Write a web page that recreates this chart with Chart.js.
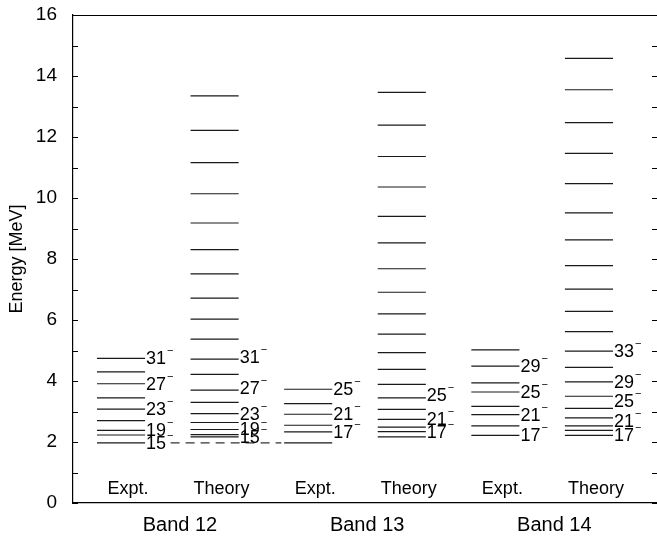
<!DOCTYPE html>
<html>
<head>
<meta charset="utf-8">
<script src="https://cdn.jsdelivr.net/npm/chart.js@4/dist/chart.umd.min.js"></script>
<style>
  html, body { margin: 0; padding: 0; background: #fff; }
</style>
</head>
<body>
<canvas id="levels" width="657" height="538"></canvas>
<script>
// --- data (MeV) ---
const bandNames = ['Band 12', 'Band 13', 'Band 14'];
const columnNames = ['Expt.', 'Theory', 'Expt.', 'Theory', 'Expt.', 'Theory'];

const band12Expt   = [1.97, 2.23, 2.38, 2.70, 3.08, 3.45, 3.91, 4.30, 4.74];
const band12Theory = [2.17, 2.24, 2.41, 2.64, 2.93, 3.30, 3.70, 4.22, 4.72, 5.37, 6.03,
                      6.72, 7.51, 8.31, 9.18, 10.14, 11.16, 12.22, 13.35];
const band13Expt   = [1.97, 2.33, 2.55, 2.91, 3.26, 3.73];
const band13Theory = [2.17, 2.34, 2.49, 2.74, 3.07, 3.45, 3.89, 4.38, 4.93, 5.54, 6.20,
                      6.91, 7.68, 8.53, 9.40, 10.36, 11.36, 12.39, 13.46];
const band14Expt   = [2.22, 2.53, 2.90, 3.17, 3.64, 3.94, 4.49, 5.02];
const band14Theory = [2.22, 2.38, 2.53, 2.79, 3.10, 3.50, 3.97, 4.45, 4.98, 5.62, 6.28,
                      7.01, 7.78, 8.63, 9.51, 10.47, 11.46, 12.47, 13.55, 14.58];

// lowest spin (2I) of each column, spins go up in steps of 2
const firstSpin = [15, 15, 15, 15, 17, 17];
const labelSpins = [
  [15, 19, 23, 27, 31], [15, 19, 23, 27, 31],
  [17, 21, 25], [17, 21, 25],
  [17, 21, 25, 29], [17, 21, 25, 29, 33]
];
const yTicks = [0, 2, 4, 6, 8, 10, 12, 14, 16];

const columns = [band12Expt, band12Theory, band13Expt, band13Theory, band14Expt, band14Theory];

const HW = 0.257;           // half width of a level line (x units)
const bandPos = [0.63, 2.63, 4.63];
const FONT = "'Liberation Sans', Arial, Helvetica, sans-serif";
// pixel nudges for crowded spin labels: {column: {spin: dy}}
const labelNudge = { 1: { 31: -2, 27: -2 }, 3: { 25: -3 }, 5: { 25: -7, 21: -5 } };

const levelSets = columns.map((energies, i) => ({
  data: energies.flatMap(e => [{ x: i - HW, y: e }, { x: i + HW, y: e }, { x: i, y: null }]),
  showLine: true,
  spanGaps: false,
  borderColor: '#1a1a1a',
  borderWidth: 1.2,
  pointRadius: 0
}));

// dashed link between the common 15- bandhead of Band 12 and Band 13
const linkSet = {
  data: [{ x: 0.53, y: band12Expt[0] }, { x: 2 - HW - 0.03, y: band13Expt[0] }],
  showLine: true,
  borderColor: '#333',
  borderWidth: 1.2,
  borderDash: [9, 6],
  pointRadius: 0
};

// --- frame, inner ticks, spin labels, Expt./Theory labels ---
const decorations = {
  id: 'decorations',
  afterDatasetsDraw(chart) {
    const { ctx, chartArea: a, scales: { x, y } } = chart;
    ctx.save();
    ctx.strokeStyle = '#000';
    ctx.lineWidth = 1.2;
    ctx.beginPath();
    ctx.moveTo(a.left, a.top + 0.5);
    ctx.lineTo(a.right, a.top + 0.5);
    for (let v = y.min; v <= y.max; v++) {
      const py = Math.round(y.getPixelForValue(v)) + 0.5;
      ctx.moveTo(a.left, py); ctx.lineTo(a.left + 5, py);
      ctx.moveTo(a.right - 5, py); ctx.lineTo(a.right, py);
    }
    ctx.stroke();

    ctx.fillStyle = '#000';
    ctx.textBaseline = 'middle';
    columns.forEach((energies, i) => {
      const px = x.getPixelForValue(i + HW) + 1;
      labelSpins[i].forEach(s => {
        const e = energies[(s - firstSpin[i]) / 2];
        const py = y.getPixelForValue(e) + ((labelNudge[i] || {})[s] || 0);
        ctx.font = '18px ' + FONT;
        ctx.textAlign = 'left';
        ctx.fillText(String(s), px, py + 1);
        const w = ctx.measureText(String(s)).width;
        ctx.font = '11px ' + FONT;
        ctx.fillText('\u2212', px + w + 1, py - 7);
      });
      ctx.font = '18px ' + FONT;
      ctx.textAlign = 'center';
      ctx.fillText(columnNames[i], x.getPixelForValue(i) + 7, a.bottom - 14);
    });
    ctx.restore();
  }
};

new Chart(document.getElementById('levels'), {
  type: 'scatter',
  data: { datasets: [...levelSets, linkSet] },
  options: {
    responsive: false,
    animation: false,
    devicePixelRatio: 1,
    layout: { padding: { top: 15, right: 0, bottom: 0, left: 0 } },
    plugins: { legend: { display: false }, tooltip: { enabled: false } },
    scales: {
      x: {
        type: 'linear',
        min: -0.513,
        max: 5.727,
        afterBuildTicks: s => { s.ticks = bandPos.map(v => ({ value: v })); },
        afterFit: s => { s.height = 35; s.paddingLeft = 0; s.paddingRight = 0; },
        grid: { display: false },
        border: { display: true, color: '#000', width: 1.2 },
        ticks: {
          autoSkip: false,
          maxRotation: 0,
          padding: 2,
          color: '#000',
          font: { family: FONT, size: 20 },
          callback: (v, idx) => bandNames[idx]
        }
      },
      y: {
        min: 0,
        max: 16,
        afterBuildTicks: s => { s.ticks = yTicks.map(v => ({ value: v })); },
        afterFit: s => { s.width = 73; s.paddingTop = 0; s.paddingBottom = 0; },
        grid: { display: false },
        border: { display: true, color: '#000', width: 1.2 },
        ticks: {
          padding: 8,
          color: '#000',
          font: { family: FONT, size: 19 }
        },
        title: {
          display: true,
          text: 'Energy [MeV]',
          color: '#000',
          padding: { top: 6, bottom: 0 },
          font: { family: FONT, size: 18 }
        }
      }
    }
  },
  plugins: [decorations]
});
</script>
</body>
</html>
